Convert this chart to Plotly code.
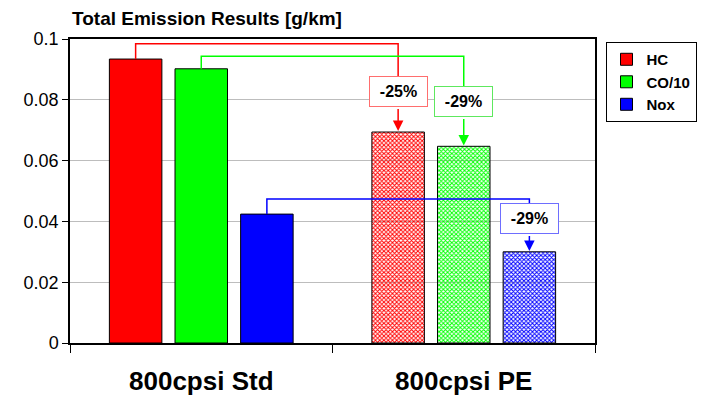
import plotly.graph_objects as go

# Emission results per catalyst configuration
configs = ["800cpsi Std", "800cpsi PE"]
series = ["HC", "CO/10", "Nox"]
hc = [0.0934, 0.0694]
co10 = [0.0902, 0.0647]
nox = [0.0424, 0.0300]
changes = ["-25%", "-29%", "-29%"]
y_ticks = [0, 0.02, 0.04, 0.06, 0.08, 0.1]
y_tick_labels = ["0", "0.02", "0.04", "0.06", "0.08", "0.1"]

values = [hc, co10, nox]
colors = ["#ff0000", "#00ff00", "#0000ff"]
box_borders = ["#ff6e6e", "#5ee85e", "#6e6eff"]
offsets = [-0.25, 0.0, 0.25]
# connector heights and label box centres (data units)
conn_y = [0.0984, 0.0943, 0.0474]
box_y = [0.0826, 0.0793, 0.0408]
box_half = 0.0051

FONT = "Liberation Sans, Arial, sans-serif"

fig = go.Figure()
for name, vals, col in zip(series, values, colors):
    fig.add_trace(go.Bar(
        name=name, x=configs, y=vals,
        marker=dict(
            color=[col, col],
            line=dict(color="black", width=1),
            pattern=dict(shape=["", "x"], fgcolor=[col, col],
                         bgcolor=["white", "white"],
                         size=3, solidity=0.55, fillmode="replace"),
        ),
    ))

shapes = []
annotations = []
for i in range(3):
    col = colors[i]
    x0 = 0 + offsets[i]
    x1 = 1 + offsets[i]
    v0, v1 = values[i]
    path = f"M {x0},{v0} L {x0},{conn_y[i]} L {x1},{conn_y[i]} L {x1},{box_y[i] + box_half}"
    shapes.append(dict(type="path", path=path, xref="x", yref="y",
                       line=dict(color=col, width=1.5)))
    # arrow from box to reduced bar
    annotations.append(dict(
        x=x1, y=v1 + 0.0003, ax=x1, ay=box_y[i] - box_half,
        xref="x", yref="y", axref="x", ayref="y",
        text="", showarrow=True, arrowhead=2, arrowsize=1.4,
        arrowwidth=1.5, arrowcolor=col, standoff=0,
    ))
    annotations.append(dict(
        x=x1, y=box_y[i], xref="x", yref="y",
        text=f"<b>{changes[i]}</b>", showarrow=False,
        font=dict(family=FONT, size=16, color="black"),
        bgcolor="white", bordercolor=box_borders[i], borderwidth=1,
        width=55, height=27, align="center", valign="middle",
    ))

annotations.append(dict(
    x=0, y=1.069, xref="paper", yref="paper", xanchor="left", yanchor="middle",
    text="<b>Total Emission Results [g/km]</b>", showarrow=False,
    font=dict(family=FONT, size=19, color="black"),
))

fig.update_layout(
    width=704, height=401,
    margin=dict(l=70, r=109, t=39, b=58, autoexpand=False),
    paper_bgcolor="white", plot_bgcolor="white",
    barmode="group", bargap=0.25, bargroupgap=0.2,
    font=dict(family=FONT, color="black"),
    shapes=shapes, annotations=annotations,
    legend=dict(
        x=1.02, y=0.99, xanchor="left", yanchor="top",
        bordercolor="black", borderwidth=1, bgcolor="white",
        font=dict(family=FONT, size=15, color="black", weight="bold"),
        tracegroupgap=1, itemwidth=30,
    ),
    xaxis=dict(
        type="category", range=[-0.5, 1.5],
        showline=True, linecolor="black", linewidth=1.5, mirror=True,
        ticks="outside", tickson="boundaries", ticklen=8, tickcolor="black",
        tickfont=dict(family=FONT, size=26, weight="bold"),
        ticklabelstandoff=14, showgrid=False,
    ),
    yaxis=dict(
        range=[0, 0.1], tickvals=y_ticks, ticktext=y_tick_labels,
        showline=True, linecolor="black", linewidth=1.5, mirror=True,
        ticks="outside", ticklen=6, tickcolor="black",
        tickfont=dict(family=FONT, size=18),
        showgrid=True, gridcolor="#bdbdbd", gridwidth=1, zeroline=False,
    ),
)

fig.write_html("out.html")
